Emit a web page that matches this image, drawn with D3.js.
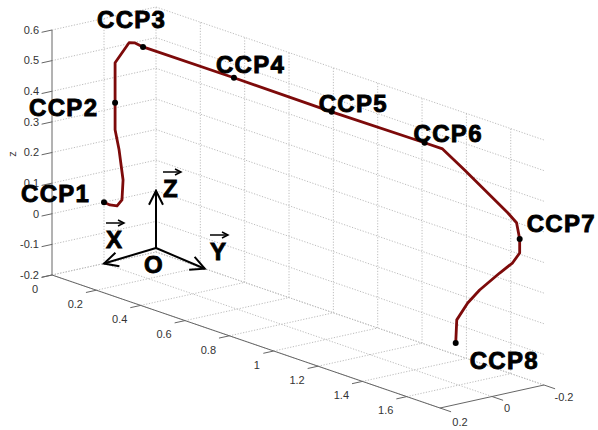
<!DOCTYPE html>
<html>
<head>
<meta charset="utf-8">
<script src="https://cdnjs.cloudflare.com/ajax/libs/d3/7.8.5/d3.min.js"></script>
<style>
  html, body { margin: 0; background: #fff; }
  svg { display: block; }
  text { font-family: "Liberation Sans", Arial, sans-serif; }
  .tick-label { font-size: 11px; fill: #333; }
  .big { font-size: 24px; font-weight: bold; fill: #000; stroke: #000; stroke-width: .9px; }
</style>
</head>
<body>
<div id="chart"></div>
<script>
// ticks
var xTicks = [0, 0.2, 0.4, 0.6, 0.8, 1, 1.2, 1.4, 1.6]
var yTicks = [0.2, 0, -0.2]
var zTicks = [-0.2, -0.1, 0, 0.1, 0.2, 0.3, 0.4, 0.5, 0.6]

// path
var pathX = [0, 0.027, 0.059, 0.081, 0.086, 0.068, 0.05, 0.05, 0.05, 0.113, 0.14, 0.176, 0.586, 1.027, 1.446, 1.527, 1.55, 1.55, 1.55, 1.55, 1.55, 1.55, 1.55, 1.55, 1.55, 1.55, 1.55]
var pathY = [0, 0, 0, 0, 0, 0, 0, 0, 0, 0, 0, 0, 0, 0, 0, 0, -0.065, -0.231, -0.265, -0.277, -0.277, -0.25, -0.2, -0.123, -0.077, -0.035, -0.031]
var pathZ = [0, -0.002, 0.003, 0.028, 0.094, 0.188, 0.249, 0.337, 0.468, 0.549, 0.555, 0.551, 0.552, 0.55, 0.553, 0.553, 0.478, 0.307, 0.268, 0.213, 0.167, 0.14, 0.116, 0.075, 0.041, -0.006, -0.081]

var ccpNames = ['CCP1', 'CCP2', 'CCP3', 'CCP4', 'CCP5', 'CCP6', 'CCP7', 'CCP8']
var ccpIndex = [0, 7, 11, 12, 13, 14, 19, 26]

// reference frame in the corner of the box
var frameOrigin = [0, -0.2, -0.187]
var frameEnds = [[0, 0, -0.2], [0.22, -0.2, -0.2], [0, -0.2, 0]]

var width = 598, height = 430
var xMax = 1.75

// oblique projection, each data axis adds its own screen offset
var xToPx = d3.scaleLinear().domain([0, xMax]).range([0, 388])
var xToPy = d3.scaleLinear().domain([0, xMax]).range([0, 133])
var yToPx = d3.scaleLinear().domain([0.2, -0.2]).range([0, 104])
var yToPy = d3.scaleLinear().domain([0.2, -0.2]).range([0, -23])
var zToPy = d3.scaleLinear().domain([-0.2, 0.6]).range([0, -245])

function project (x, y, z) {
  return [52 + xToPx(x) + yToPx(y), 275 + xToPy(x) + yToPy(y) + zToPy(z)]
}

var svg = d3.select('#chart').append('svg')
  .attr('width', width)
  .attr('height', height)

var line = d3.line()

function seg (cls, a, b, color, w, dash) {
  svg.append('path')
    .attr('class', cls)
    .attr('d', line([project(a[0], a[1], a[2]), project(b[0], b[1], b[2])]))
    .attr('fill', 'none')
    .attr('stroke', color)
    .attr('stroke-width', w)
    .attr('stroke-dasharray', dash)
}

var gridColor = '#bdbdbd'
var dots = '1.2 1.6'

zTicks.forEach(function (z) {
  seg('grid', [0, 0.2, z], [0, -0.2, z], gridColor, 1, dots)
  seg('grid', [0, -0.2, z], [xMax, -0.2, z], gridColor, 1, dots)
})
xTicks.forEach(function (x) {
  if (x > 0) seg('grid', [x, -0.2, -0.2], [x, -0.2, 0.6], gridColor, 1, dots)
  seg('grid', [x, 0.2, -0.2], [x, -0.2, -0.2], gridColor, 1, dots)
})
yTicks.forEach(function (y) {
  if (y < 0.2) seg('grid', [0, y, -0.2], [0, y, 0.6], gridColor, 1, dots)
  seg('grid', [0, y, -0.2], [xMax, y, -0.2], gridColor, 1, dots)
})

// box axes
var axisColor = '#666'
seg('axis', [0, 0.2, -0.2], [xMax, 0.2, -0.2], axisColor, 1)
seg('axis', [xMax, 0.2, -0.2], [xMax, -0.2, -0.2], axisColor, 1)
seg('axis', [0, 0.2, -0.2], [0, 0.2, 0.6], axisColor, 1)

xTicks.forEach(function (x) {
  seg('tick', [x, 0.2, -0.2], [x, 0.24, -0.2], axisColor, 1)
})
yTicks.forEach(function (y) {
  seg('tick', [xMax, y, -0.2], [xMax + 0.05, y, -0.2], axisColor, 1)
})
zTicks.forEach(function (z) {
  seg('tick', [0, 0.2, z], [0, 0.24, z], axisColor, 1)
})

function tickLabel (p, dx, dy, anchor, txt) {
  svg.append('text')
    .attr('class', 'tick-label')
    .attr('x', p[0] + dx)
    .attr('y', p[1] + dy)
    .attr('dy', '0.35em')
    .attr('text-anchor', anchor)
    .text(txt)
}

xTicks.forEach(function (x) {
  tickLabel(project(x, 0.2, -0.2), x === 0 ? -17 : (x === 1 ? -17 : -21), 14, 'middle', x)
})
yTicks.forEach(function (y) {
  tickLabel(project(xMax, y, -0.2), y === 0 ? 15 : 20, y === 0.2 ? 14 : 12, 'middle', y)
})
zTicks.forEach(function (z) {
  tickLabel(project(0, 0.2, z), -13, 0, 'end', z)
})

svg.append('text')
  .attr('class', 'tick-label')
  .attr('transform', 'translate(16,154) rotate(-90)')
  .attr('text-anchor', 'middle')
  .text('z')

// the path itself
var pathPoints = d3.range(pathX.length).map(function (i) {
  return project(pathX[i], pathY[i], pathZ[i])
})

svg.append('path')
  .attr('class', 'path3d')
  .attr('d', line(pathPoints))
  .attr('fill', 'none')
  .attr('stroke', '#7d0a0a')
  .attr('stroke-width', 2.8)
  .attr('stroke-linejoin', 'round')

svg.selectAll('circle.ccp')
  .data(ccpIndex)
  .enter().append('circle')
  .attr('class', 'ccp')
  .attr('cx', function (d) { return pathPoints[d][0] })
  .attr('cy', function (d) { return pathPoints[d][1] })
  .attr('r', 3)
  .attr('fill', '#000')

// label offsets from each marker
var labelDx = [-83, -86, -46, -18, -13, -11, 7, 14]
var labelDy = [0, 13, -19, -5, 0, -1, -7, 26]

svg.selectAll('text.ccp-label')
  .data(ccpNames)
  .enter().append('text')
  .attr('class', 'big ccp-label')
  .attr('x', function (d, i) { return pathPoints[ccpIndex[i]][0] + labelDx[i] })
  .attr('y', function (d, i) { return pathPoints[ccpIndex[i]][1] + labelDy[i] })
  .attr('letter-spacing', 1.3)
  .text(function (d) { return d })

// frame arrows
svg.append('defs').append('marker')
  .attr('id', 'head')
  .attr('viewBox', '0 0 20 20')
  .attr('refX', 18)
  .attr('refY', 10)
  .attr('markerWidth', 20)
  .attr('markerHeight', 20)
  .attr('markerUnits', 'userSpaceOnUse')
  .attr('orient', 'auto')
  .append('path')
  .attr('d', 'M4,3L18,10L4,17')
  .attr('fill', 'none')
  .attr('stroke', '#000')
  .attr('stroke-width', 2)

frameEnds.forEach(function (e) {
  var a = project(frameOrigin[0], frameOrigin[1], frameOrigin[2])
  var b = project(e[0], e[1], e[2])
  svg.append('path')
    .attr('d', line([a, b]))
    .attr('stroke', '#000')
    .attr('stroke-width', 2)
    .attr('marker-end', 'url(#head)')
})

var letters = ['X', 'Y', 'Z', 'O']
var letterX = [106, 210, 163, 144]
var letterY = [248, 260, 197, 273]

letters.forEach(function (t, i) {
  svg.append('text')
    .attr('class', 'big')
    .attr('x', letterX[i])
    .attr('y', letterY[i])
    .text(t)
  if (t === 'O') return
  // vector arrow over the letter
  var ay = letterY[i] - 25
  svg.append('path')
    .attr('d', line([[letterX[i], ay], [letterX[i] + 18, ay]]))
    .attr('stroke', '#000')
    .attr('stroke-width', 1.5)
  svg.append('path')
    .attr('d', line([[letterX[i] + 12, ay - 3], [letterX[i] + 18, ay], [letterX[i] + 12, ay + 3]]))
    .attr('fill', 'none')
    .attr('stroke', '#000')
    .attr('stroke-width', 1.5)
})
</script>
</body>
</html>
